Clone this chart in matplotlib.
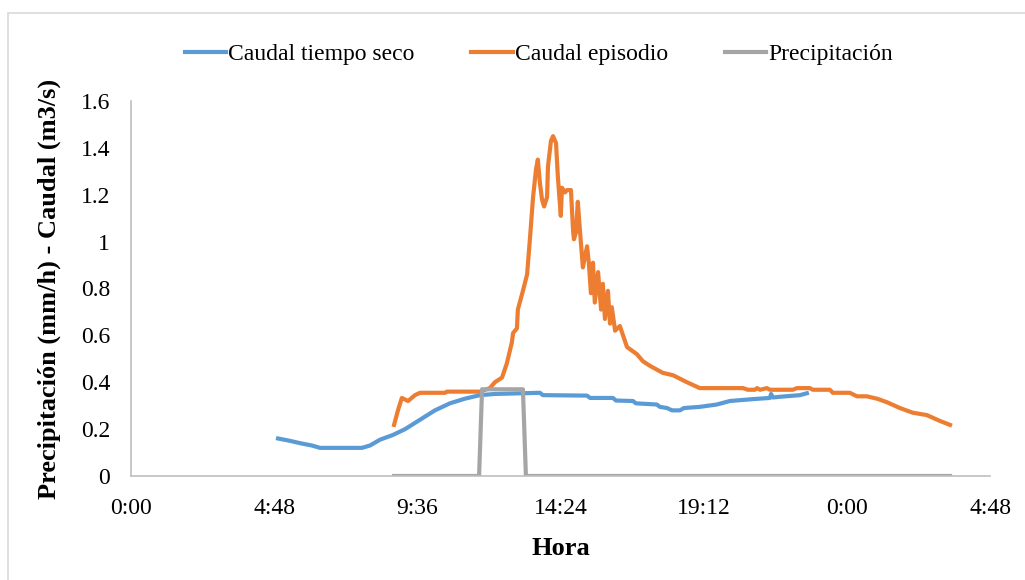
import numpy as np
import matplotlib
matplotlib.use('Agg')
import matplotlib.pyplot as plt
from matplotlib.ticker import FixedLocator, FuncFormatter

# horas decimales (lectura del grafico)
t_seco = [4.93, 5.33, 5.67, 6.07, 6.34, 7.74, 8.01, 8.35, 8.78, 9.19, 9.69, 10.19,
          10.69, 11.20, 11.70, 12.20, 13.71, 13.81, 15.29, 15.39, 16.16, 16.26,
          16.83, 16.93, 17.63, 17.73, 17.97, 18.14, 18.40, 18.54, 19.07, 19.64,
          20.08, 20.85, 21.42, 21.46, 21.52, 21.76, 22.43, 22.66]
q_seco = [0.16, 0.15, 0.14, 0.13, 0.12, 0.12, 0.13, 0.155, 0.175, 0.20, 0.24, 0.28,
          0.31, 0.33, 0.345, 0.35, 0.355, 0.345, 0.343, 0.333, 0.333, 0.322,
          0.32, 0.31, 0.305, 0.295, 0.29, 0.28, 0.28, 0.29, 0.295, 0.305,
          0.32, 0.328, 0.333, 0.35, 0.335, 0.338, 0.345, 0.353]

t_epi = [8.82, 8.95, 9.08, 9.29, 9.52, 9.69, 10.53, 10.59, 11.70, 12.03, 12.20, 12.44,
         12.60, 12.77, 12.81, 12.94, 12.97, 13.14, 13.28, 13.38, 13.48, 13.58, 13.64,
         13.71, 13.78, 13.85, 13.95, 13.98, 14.08, 14.15, 14.25, 14.31, 14.38, 14.41,
         14.45, 14.55, 14.62, 14.75, 14.82, 14.85, 14.92, 14.98, 15.05, 15.15, 15.29,
         15.35, 15.42, 15.49, 15.55, 15.66, 15.76, 15.82, 15.89, 15.99, 16.06, 16.12,
         16.23, 16.39, 16.63, 16.96, 17.16, 17.40, 17.83, 18.17, 18.64, 19.07, 20.52,
         20.68, 20.92, 20.99, 21.09, 21.32, 21.42, 22.19, 22.33, 22.76, 22.86, 23.43,
         23.53, 24.10, 24.34, 24.67, 25.01, 25.34, 25.78, 26.21, 26.68, 27.12, 27.46]
q_epi = [0.218, 0.28, 0.333, 0.32, 0.345, 0.355, 0.355, 0.36, 0.36, 0.375, 0.40, 0.42,
         0.48, 0.57, 0.61, 0.63, 0.71, 0.79, 0.86, 1.02, 1.19, 1.31, 1.35,
         1.25, 1.18, 1.15, 1.19, 1.32, 1.43, 1.45, 1.42, 1.28, 1.16, 1.11,
         1.23, 1.21, 1.22, 1.22, 1.05, 1.01, 1.04, 1.17, 1.05, 0.89, 0.98,
         0.91, 0.78, 0.91, 0.74, 0.87, 0.71, 0.82, 0.67, 0.79, 0.65, 0.72,
         0.62, 0.64, 0.55, 0.52, 0.49, 0.47, 0.44, 0.43, 0.40, 0.375, 0.375,
         0.368, 0.368, 0.375, 0.368, 0.375, 0.368, 0.368, 0.375, 0.375, 0.368, 0.368,
         0.355, 0.355, 0.34, 0.34, 0.33, 0.315, 0.29, 0.27, 0.26, 0.235, 0.218]

t_prec = [8.82, 11.67, 11.77, 13.14, 13.24, 27.46]
p_prec = [0, 0, 0.37, 0.37, 0, 0]

x_ticks = [0, 4.8, 9.6, 14.4, 19.2, 24.0, 28.8]


def fmt_hora(x, pos):
    mins = int(round(x * 60)) % (24 * 60)
    return '{}:{:02d}'.format(mins // 60, mins % 60)


plt.rcParams['font.family'] = ['Liberation Serif', 'DejaVu Serif']

fig = plt.figure(figsize=(10.25, 5.8), dpi=100)
fig.patches.append(plt.Rectangle((8 / 1025, -0.1), 1.2, 1.1 - 13 / 580,
                                 transform=fig.transFigure, fill=False,
                                 edgecolor='#D9D9D9', lw=1.2))

ax = fig.add_axes([131 / 1025, 1 - 476 / 580, (990 - 131) / 1025, (476 - 101) / 580])

lw = 3.0
ax.plot(t_seco, q_seco, color='#5B9BD5', lw=lw, label='Caudal tiempo seco')
ax.plot(t_epi, q_epi, color='#ED7D31', lw=lw, label='Caudal episodio')
ax.plot(t_prec, p_prec, color='#A5A5A5', lw=lw, label='Precipitación')

ax.set_xlim(0, 28.8)
ax.set_ylim(0, 1.6)
ax.xaxis.set_major_locator(FixedLocator(x_ticks))
ax.xaxis.set_major_formatter(FuncFormatter(fmt_hora))
ax.set_yticks(np.arange(0, 1.61, 0.2))
ax.yaxis.set_major_formatter(FuncFormatter(lambda v, p: '{:g}'.format(round(v, 1))))
ax.tick_params(axis='both', length=0, labelsize=17)
ax.tick_params(axis='x', pad=16)
ax.tick_params(axis='y', pad=15)

for s in ['top', 'right']:
    ax.spines[s].set_visible(False)
for s in ['left', 'bottom']:
    ax.spines[s].set_color('#BFBFBF')
    ax.spines[s].set_linewidth(1.2)

ax.set_xlabel('Hora', fontsize=19, fontweight='bold', labelpad=13)
ax.set_ylabel('Precipitación (mm/h) - Caudal (m3/s)', fontsize=19, fontweight='bold', labelpad=14)

ax.legend(loc='upper center', bbox_to_anchor=(0.475, 1.21), ncol=3, frameon=False,
          fontsize=17, handlelength=1.75, handletextpad=0.1, columnspacing=2.4)

fig.savefig('out.png', dpi=100)
